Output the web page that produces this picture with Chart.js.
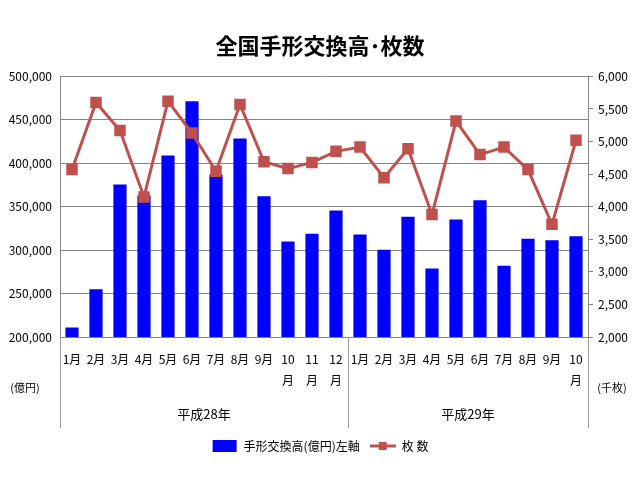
<!DOCTYPE html>
<html lang="ja">
<head>
<meta charset="UTF-8">
<title>全国手形交換高･枚数</title>
<script src="https://cdn.jsdelivr.net/npm/chart.js"></script>
<style>
body { margin: 0; background: #fff; }
.wrap { width: 640px; height: 484px; position: relative; }
</style>
</head>
<body>
<div class="wrap"><canvas id="c"></canvas></div>
<script>
// 月ラベル（10月以降は2行）
const months = ['1月','2月','3月','4月','5月','6月','7月','8月','9月',['10','月'],['11','月'],['12','月'],
                '1月','2月','3月','4月','5月','6月','7月','8月','9月',['10','月']];
const years = ['平成28年', '平成29年'];
const yearCounts = [12, 10];

// 手形交換高（億円）左軸
const amount = [211000, 255000, 375500, 363000, 409000, 471500, 387000, 428500, 362000, 310000, 319000, 345500,
                318000, 300300, 338300, 279000, 335300, 357500, 282000, 313000, 311500, 316000];
// 枚数（千枚）右軸
const sheets = [4570, 5600, 5170, 4150, 5620, 5130, 4545, 5570, 4690, 4585, 4680, 4850,
                4915, 4445, 4890, 3880, 5315, 4800, 4915, 4570, 3730, 5020];

const leftTicks = [200000, 500000, 50000];
const rightTicks = [2000, 6000, 500];

const FONT = '"Noto Sans CJK JP", sans-serif';
const BLUE = '#0000FF';
const RED = '#C0504D';

function makeIcon(kind) {
    const cv = document.createElement('canvas');
    cv.width = 26; cv.height = 12;
    const g = cv.getContext('2d');
    if (kind === 'bar') {
        g.fillStyle = BLUE;
        g.fillRect(1, 0, 24, 12);
    } else {
        g.strokeStyle = RED; g.lineWidth = 3;
        g.beginPath(); g.moveTo(0, 6); g.lineTo(26, 6); g.stroke();
        g.fillStyle = RED;
        g.fillRect(9, 2, 8, 8);
    }
    return cv;
}

const extras = {
    id: 'extras',
    afterDraw(chart) {
        const ctx = chart.ctx;
        const x = chart.scales.x;
        const area = chart.chartArea;
        const bounds = [area.left];
        let idx = 0;
        yearCounts.forEach(n => {
            idx += n;
            if (idx < months.length) {
                bounds.push((x.getPixelForValue(idx - 1) + x.getPixelForValue(idx)) / 2);
            }
        });
        bounds.push(area.right);
        ctx.save();
        ctx.strokeStyle = '#9a9a9a';
        ctx.lineWidth = 1;
        bounds.forEach(b => {
            ctx.beginPath();
            ctx.moveTo(Math.round(b) + 0.5, area.bottom);
            ctx.lineTo(Math.round(b) + 0.5, 428);
            ctx.stroke();
        });
        ctx.fillStyle = '#000';
        ctx.font = '13px ' + FONT;
        ctx.textAlign = 'center';
        ctx.textBaseline = 'middle';
        years.forEach((y, i) => {
            ctx.fillText(y, (bounds[i] + bounds[i + 1]) / 2, 414);
        });
        ctx.font = '11px ' + FONT;
        ctx.fillText('(億円)', 25, 388);
        ctx.fillText('(千枚)', 612, 388);
        ctx.restore();
    }
};

new Chart(document.getElementById('c'), {
    data: {
        labels: months,
        datasets: [
            {
                type: 'bar',
                label: '手形交換高(億円)左軸',
                data: amount,
                backgroundColor: BLUE,
                yAxisID: 'y',
                order: 2,
                categoryPercentage: 1,
                barPercentage: 0.55
            },
            {
                type: 'line',
                label: '枚 数',
                data: sheets,
                borderColor: RED,
                backgroundColor: RED,
                borderWidth: 3,
                pointStyle: 'rect',
                pointRadius: 6,
                pointHoverRadius: 6,
                yAxisID: 'y1',
                order: 1
            }
        ]
    },
    options: {
        responsive: true,
        maintainAspectRatio: false,
        animation: false,
        layout: { padding: { left: 0, right: 0, top: 0, bottom: 22 } },
        scales: {
            x: {
                grid: { display: false },
                border: { color: '#868686' },
                ticks: {
                    autoSkip: false, maxRotation: 0, minRotation: 0,
                    color: '#000', padding: 4,
                    font: { family: FONT, size: 12, lineHeight: 1.75 }
                },
                afterFit(s) { s.height = 93; }
            },
            y: {
                position: 'left',
                min: leftTicks[0], max: leftTicks[1],
                grid: { color: '#868686', drawTicks: false },
                border: { color: '#868686' },
                ticks: {
                    stepSize: leftTicks[2], padding: 8, color: '#000',
                    font: { family: FONT, size: 12 },
                    callback: v => v.toLocaleString('en-US')
                },
                afterFit(s) { s.width = 60; }
            },
            y1: {
                position: 'right',
                min: rightTicks[0], max: rightTicks[1],
                grid: { drawOnChartArea: false, color: '#868686', tickLength: 5 },
                border: { color: '#868686' },
                ticks: {
                    stepSize: rightTicks[2], padding: 5, color: '#000',
                    font: { family: FONT, size: 12 },
                    callback: v => v.toLocaleString('en-US')
                },
                afterFit(s) { s.width = 52; }
            }
        },
        plugins: {
            title: {
                display: true,
                text: '全国手形交換高･枚数',
                color: '#000',
                font: { family: FONT, size: 22, weight: 'bold', lineHeight: 1.2 },
                padding: { top: 32, bottom: 18 }
            },
            legend: {
                position: 'bottom',
                labels: {
                    color: '#000',
                    font: { family: FONT, size: 12 },
                    usePointStyle: true,
                    pointStyleWidth: 26,
                    padding: 10,
                    generateLabels: chart => chart.data.datasets.map((ds, i) => ({
                        text: ds.label,
                        pointStyle: makeIcon(ds.type),
                        fillStyle: ds.backgroundColor,
                        strokeStyle: ds.borderColor || ds.backgroundColor,
                        lineWidth: 0,
                        fontColor: '#000',
                        datasetIndex: i,
                        hidden: false
                    }))
                }
            },
            tooltip: { enabled: false }
        }
    },
    plugins: [extras]
});
</script>
</body>
</html>
